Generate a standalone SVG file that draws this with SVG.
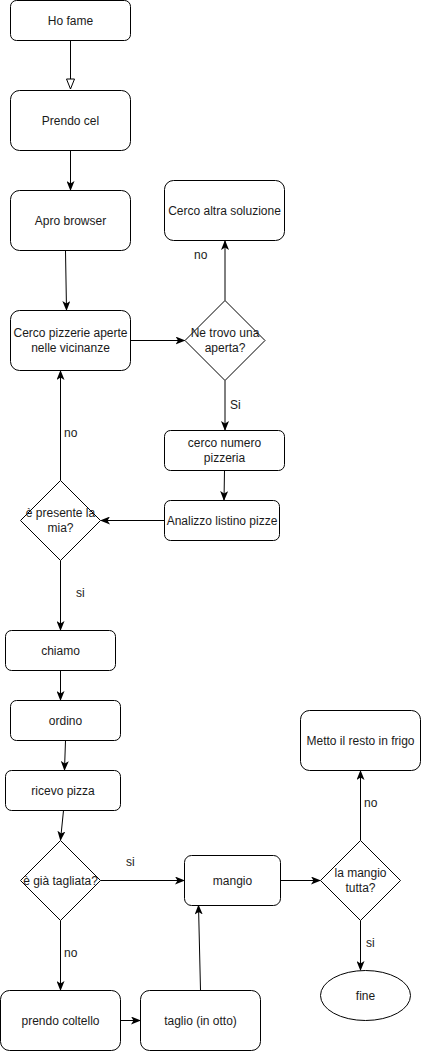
<svg xmlns="http://www.w3.org/2000/svg" width="421" height="1051" viewBox="0 0 421 1051">
<style>
.n{fill:#fff;stroke:#000;stroke-width:1}
.t{font-family:"Liberation Sans",Arial,sans-serif;font-size:12px;fill:#1a1a1a;text-anchor:middle;dominant-baseline:central}
.l{font-family:"Liberation Sans",Arial,sans-serif;font-size:12px;fill:#1a1a1a;dominant-baseline:central}
.e{fill:none;stroke:#000;stroke-width:1;marker-end:url(#a)}
</style>
<defs>
<marker id="a" viewBox="0 0 10 8" markerWidth="10" markerHeight="8" refX="9" refY="4" orient="auto" markerUnits="userSpaceOnUse">
<path d="M0,0 L10,4 L0,8 L2.5,4 z" fill="#000"/>
</marker>
<marker id="h" viewBox="0 0 12 10" markerWidth="12" markerHeight="10" refX="11" refY="5" orient="auto" markerUnits="userSpaceOnUse">
<path d="M1,1 L11,5 L1,9 z" fill="#fff" stroke="#000" stroke-width="1"/>
</marker>
</defs>
<rect width="421" height="1051" fill="#fff"/>
<g id="connectors">
<path d="M70.5,40.5 L70.5,89" fill="none" stroke="#000" marker-end="url(#h)"/>
<path class="e" d="M70.5,150.5 L70.5,190"/>
<path class="e" d="M65.5,250.5 L66.5,310"/>
<path class="e" d="M130.5,340.5 L184.5,340.5"/>
<path class="e" d="M225,300.5 L225,241"/>
<path class="e" d="M225,380.5 L225,430"/>
<path class="e" d="M224.5,470.5 L224,500"/>
<path class="e" d="M164.5,520.5 L101,520.5"/>
<path class="e" d="M60.5,480.5 L60.5,371"/>
<path class="e" d="M60.5,560.5 L60.5,630"/>
<path class="e" d="M60.5,670.5 L60.5,700"/>
<path class="e" d="M65.5,740.5 L64.5,770"/>
<path class="e" d="M63.5,810.5 L60.5,840"/>
<path class="e" d="M100.5,880.5 L184,880.5"/>
<path class="e" d="M280.5,880.5 L320,880.5"/>
<path class="e" d="M360.5,840.5 L360.5,771"/>
<path class="e" d="M360.5,920.5 L360.5,970"/>
<path class="e" d="M60.5,920.5 L60.5,990"/>
<path class="e" d="M120.5,1020.5 L140,1020.5"/>
<path class="e" d="M200.5,990.5 L198.5,905.5"/>
<text class="l" x="194" y="255">no</text>
<text class="l" x="230" y="405">Si</text>
<text class="l" x="64" y="433">no</text>
<text class="l" x="76" y="593">si</text>
<text class="l" x="126" y="862">si</text>
<text class="l" x="364" y="803">no</text>
<text class="l" x="366" y="943">si</text>
<text class="l" x="64" y="953">no</text>
</g>
<g id="hofame"><rect class="n" x="10.5" y="0.5" width="120" height="40" rx="6"/><text class="t" x="70.5" y="20.5">Ho fame</text></g>
<g id="prendocel"><rect class="n" x="10.5" y="90.5" width="120" height="60" rx="9"/><text class="t" x="70.5" y="120.5">Prendo cel</text></g>
<g id="aprobrowser"><rect class="n" x="10.5" y="190.5" width="120" height="60" rx="9"/><text class="t" x="70.5" y="220.5">Apro browser</text></g>
<g id="altrasoluzione"><rect class="n" x="164.5" y="180.5" width="120" height="60" rx="9"/><text class="t" x="224.5" y="210.5">Cerco altra soluzione</text></g>
<g id="cercopizzerie"><rect class="n" x="10.5" y="310.5" width="120" height="60" rx="9"/><text class="t" x="70.5" y="333">Cerco pizzerie aperte</text><text class="t" x="70.5" y="348">nelle vicinanze</text></g>
<g id="netrovo"><path class="n" d="M225,300.5 L265,340.5 L225,380.5 L185,340.5 Z"/><text class="t" x="225" y="333">Ne trovo una</text><text class="t" x="225" y="348">aperta?</text></g>
<g id="cerconumero"><rect class="n" x="164.5" y="430.5" width="120" height="40" rx="6"/><text class="t" x="224.5" y="443">cerco numero</text><text class="t" x="224.5" y="458">pizzeria</text></g>
<g id="analizzo"><rect class="n" x="164.5" y="500.5" width="115" height="40" rx="6"/><text class="t" x="222" y="520.5">Analizzo listino pizze</text></g>
<g id="presente"><path class="n" d="M60.5,480.5 L100.5,520.5 L60.5,560.5 L20.5,520.5 Z"/><text class="t" x="60.5" y="513">è presente la</text><text class="t" x="60.5" y="528">mia?</text></g>
<g id="chiamo"><rect class="n" x="5.5" y="630.5" width="110" height="40" rx="6"/><text class="t" x="60.5" y="650.5">chiamo</text></g>
<g id="ordino"><rect class="n" x="10.5" y="700.5" width="110" height="40" rx="6"/><text class="t" x="65.5" y="720.5">ordino</text></g>
<g id="ricevo"><rect class="n" x="5.5" y="770.5" width="115" height="40" rx="6"/><text class="t" x="63" y="790.5">ricevo pizza</text></g>
<g id="tagliata"><path class="n" d="M60.5,840.5 L100.5,880.5 L60.5,920.5 L20.5,880.5 Z"/><text class="t" x="60.5" y="880.5">è già tagliata?</text></g>
<g id="mangio"><rect class="n" x="184.5" y="855.5" width="96" height="50" rx="7"/><text class="t" x="232.5" y="880.5">mangio</text></g>
<g id="mangiotutta"><path class="n" d="M360.5,840.5 L400.5,880.5 L360.5,920.5 L320.5,880.5 Z"/><text class="t" x="360.5" y="873">la mangio</text><text class="t" x="360.5" y="888">tutta?</text></g>
<g id="frigo"><rect class="n" x="300.5" y="710.5" width="120" height="60" rx="9"/><text class="t" x="360.5" y="740.5">Metto il resto in frigo</text></g>
<g id="fine"><ellipse class="n" cx="365.5" cy="995.5" rx="45" ry="25"/><text class="t" x="365.5" y="995.5">fine</text></g>
<g id="coltello"><rect class="n" x="0.5" y="990.5" width="120" height="60" rx="9"/><text class="t" x="60.5" y="1020.5">prendo coltello</text></g>
<g id="taglio"><rect class="n" x="140.5" y="990.5" width="120" height="60" rx="9"/><text class="t" x="200.5" y="1020.5">taglio (in otto)</text></g>
</svg>
